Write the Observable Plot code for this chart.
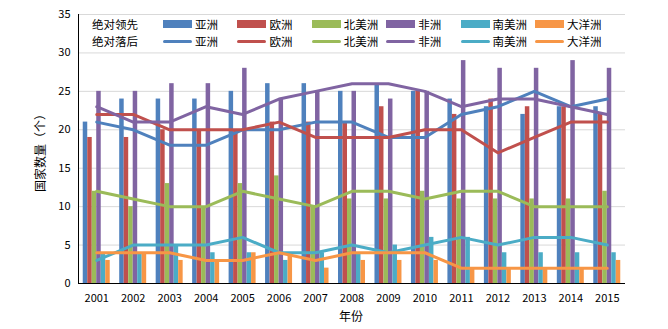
<!DOCTYPE html>
<html>
<head>
<meta charset="utf-8">
<script src="https://cdn.jsdelivr.net/npm/d3@7"></script>
<script src="https://cdn.jsdelivr.net/npm/@observablehq/plot@0.6"></script>
<style>
  html, body { margin: 0; padding: 0; background: #fff; }
  #wrap { position: relative; width: 668px; height: 329px; font-family: "Noto Sans CJK SC", sans-serif; color: #000; }
  #wrap svg { position: absolute; left: 0; top: 0; }
  .lg { position: absolute; font-size: 11.5px; line-height: 13px; height: 13px; white-space: nowrap; }
  .sw { position: absolute; }
  .ylab { position: absolute; font-size: 12px; line-height: 14px; transform: translate(-50%, -50%) rotate(-90deg); white-space: nowrap; }
  .xlab { position: absolute; font-size: 12px; line-height: 14px; transform: translate(-50%, -50%); white-space: nowrap; }
</style>
</head>
<body>
<div id="wrap"></div>
<script>
const years = [2001,2002,2003,2004,2005,2006,2007,2008,2009,2010,2011,2012,2013,2014,2015];
const continents = ["亚洲","欧洲","北美洲","非洲","南美洲","大洋洲"];
const colors = ["#4F81BD","#C0504D","#9BBB59","#8064A2","#4BACC6","#F79646"];
const yTicks = [0,5,10,15,20,25,30,35];

// 绝对领先 (bars)
const leadAsia    = [21,24,24,24,25,26,26,25,26,25,24,23,22,23,23];
const leadEurope  = [19,19,20,20,20,21,21,21,23,25,22,24,23,23,22];
const leadNA      = [12,10,13,10,13,14,10,11,11,12,11,11,11,11,12];
const leadAfrica  = [25,25,26,26,28,24,25,25,24,25,29,28,28,29,28];
const leadSA      = [4,4,5,4,4,3,4,4,5,6,6,4,4,4,4];
const leadOceania = [3,4,3,3,4,4,2,3,3,3,2,2,2,2,3];

// 绝对落后 (lines)
const lagAsia    = [21,20,18,18,20,20,21,21,19,19,22,23,25,23,24];
const lagEurope  = [22,22,20,20,20,21,19,19,19,20,20,17,19,21,21];
const lagNA      = [12,11,10,10,12,11,10,12,12,11,12,12,10,10,10];
const lagAfrica  = [23,21,21,23,22,24,25,26,26,25,23,24,24,23,22];
const lagSA      = [3,5,5,5,6,4,4,5,4,5,6,5,6,6,5];
const lagOceania = [4,4,4,3,3,4,3,4,4,4,2,2,2,2,2];

const leadSeries = [leadAsia, leadEurope, leadNA, leadAfrica, leadSA, leadOceania];
const lagSeries  = [lagAsia, lagEurope, lagNA, lagAfrica, lagSA, lagOceania];

const barData = [];
const lineData = [];
continents.forEach((c, i) => {
  years.forEach((y, j) => {
    barData.push({year: y, continent: c, idx: i, value: leadSeries[i][j]});
    lineData.push({year: y, continent: c, idx: i, value: lagSeries[i][j]});
  });
});

const groupW = 0.74;
const bw = groupW / continents.length;

const chart = Plot.plot({
  width: 668,
  height: 329,
  marginLeft: 78,
  marginRight: 43,
  marginTop: 14,
  marginBottom: 46,
  style: {fontFamily: '"Noto Sans CJK SC", sans-serif', fontSize: "11px", background: "transparent", color: "#000"},
  x: {domain: [2000.5, 2015.5], ticks: years, tickFormat: d => String(d), tickSize: 0, tickPadding: 11, label: null},
  y: {domain: [0, 35], ticks: yTicks, tickSize: 0, tickPadding: 8, label: null},
  color: {domain: continents, range: colors},
  marks: [
    Plot.ruleY(yTicks.filter(v => v > 0), {stroke: "#D9D9D9", strokeWidth: 1}),
    Plot.rectY(barData, {
      x1: d => d.year - groupW / 2 + d.idx * bw,
      x2: d => d.year - groupW / 2 + (d.idx + 1) * bw,
      y1: 0,
      y2: "value",
      fill: "continent"
    }),
    Plot.line(lineData, {x: "year", y: "value", z: "continent", stroke: "continent", strokeWidth: 3, strokeLinejoin: "round", strokeLinecap: "round"}),
    Plot.ruleY([0], {stroke: "#000", strokeWidth: 1}),
    Plot.ruleX([2000.5], {stroke: "#000", strokeWidth: 1})
  ]
});

const wrap = document.getElementById("wrap");
wrap.appendChild(chart);

// legend
function addText(txt, left, top, cls) {
  const s = document.createElement("div");
  s.className = cls || "lg";
  s.textContent = txt;
  s.style.left = left + "px";
  s.style.top = top + "px";
  wrap.appendChild(s);
  return s;
}
function addSwatch(left, top, w, h, color, radius) {
  const s = document.createElement("div");
  s.className = "sw";
  s.style.left = left + "px";
  s.style.top = top + "px";
  s.style.width = w + "px";
  s.style.height = h + "px";
  s.style.background = color;
  if (radius) s.style.borderRadius = radius + "px";
  wrap.appendChild(s);
}
const rows = [{label: "绝对领先", cy: 24, kind: "bar"}, {label: "绝对落后", cy: 41, kind: "line"}];
rows.forEach(r => {
  addText(r.label, 92, r.cy - 6.5);
  continents.forEach((c, i) => {
    const left = 163 + i * 74.4;
    if (r.kind === "bar") addSwatch(left, r.cy - 4, 29, 8, colors[i]);
    else addSwatch(left, r.cy - 1.5, 29, 3, colors[i], 1.5);
    addText(c, left + 32, r.cy - 6.5);
  });
});

addText("国家数量（个）", 40, 150, "ylab");
addText("年份", 351, 316, "xlab");
</script>
</body>
</html>
